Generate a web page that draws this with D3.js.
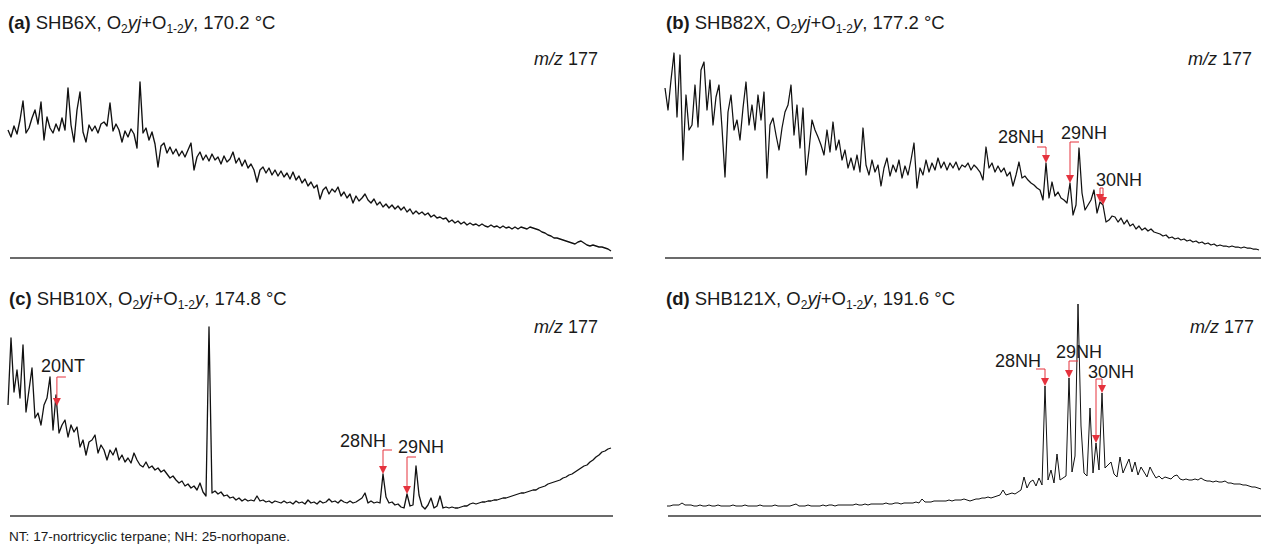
<!DOCTYPE html>
<html>
<head>
<meta charset="utf-8">
<script src="https://cdn.jsdelivr.net/npm/d3@7"></script>
<style>
  body { margin: 0; background: #fff; }
  svg text { font-family: "Liberation Sans", Arial, Helvetica, sans-serif; fill: #1a1a1a; }
</style>
</head>
<body>
<svg id="chart" width="1261" height="545"></svg>
<script>
// m/z 177 mass chromatograms: relative abundance per scan (every third scan)
const panelLetters = ["a", "b", "c", "d"];
const sampleIds = ["SHB6X", "SHB82X", "SHB10X", "SHB121X"];
const temperatures = ["170.2", "177.2", "174.8", "191.6"];
const ionLabel = "177";
const footnote = "NT: 17-nortricyclic terpane; NH: 25-norhopane.";

const abundanceA = [
  128,121,132,124,138,157,125,130,140,148,
  134,156,118,141,130,125,134,127,140,128,
  170,133,116,148,166,126,116,133,127,132,
  125,134,136,132,155,127,134,128,116,127,
  121,129,124,110,176,125,130,118,126,114,
  91,112,115,105,111,104,109,102,107,101,
  108,115,88,101,106,98,103,97,104,98,
  101,94,102,96,99,106,95,100,92,98,
  90,94,88,76,88,91,85,90,83,88,
  82,87,81,85,79,86,78,82,75,79,
  72,76,70,73,59,68,71,64,69,66,
  71,62,66,60,64,55,62,57,60,64,
  58,55,59,53,56,51,54,50,53,49,
  52,48,51,46,49,44,47,44,46,43,
  45,41,43,40,41,39,40,36,38,35,
  37,34,36,33,35,33,34,32,34,32,
  31,33,31,32,30,32,30,31,29,31,
  29,31,30,29,31,30,29,28,26,25,
  23,22,20,20,19,18,17,16,15,14,
  16,17,15,13,12,13,12,11,11,10,9,7
];

const abundanceB = [
  170,148,178,205,141,203,98,163,128,133,
  173,131,188,196,148,178,133,161,173,130,
  81,146,163,128,138,118,150,176,133,153,
  128,163,138,166,80,133,140,123,108,130,
  146,153,173,123,153,110,150,83,108,138,
  128,121,113,103,128,106,136,108,118,98,
  108,90,100,88,103,86,130,93,83,98,
  86,93,72,90,100,82,93,86,98,80,
  92,83,98,115,70,90,83,98,86,95,
  88,100,90,96,88,95,90,96,88,93,
  91,95,88,93,90,86,78,111,90,95,
  86,92,86,90,82,86,72,83,96,80,
  82,78,75,73,70,68,58,95,60,76,
  62,66,60,58,55,75,43,53,110,65,
  48,53,58,68,45,56,53,36,38,42,
  41,36,40,34,38,32,34,29,32,28,
  30,27,29,26,25,24,22,23,20,21,
  19,20,18,19,17,18,16,17,15,16,
  14,15,13,14,12,13,12,12,11,12,
  11,11,10,11,10,10,9,9,8
];

const abundanceC = [
  111,178,124,146,118,171,104,126,148,98,
  103,91,111,118,139,86,121,83,91,96,
  79,91,84,89,69,76,61,74,76,81,
  63,71,66,56,66,61,68,56,61,54,
  58,53,63,56,51,49,54,48,50,46,
  48,44,46,42,38,40,36,33,35,30,
  32,28,30,26,33,24,20,189,23,25,
  22,24,20,21,18,19,16,18,15,17,
  15,16,15,20,15,16,14,15,13,15,
  14,13,15,13,14,12,15,13,14,12,
  16,13,14,12,15,13,14,17,14,15,
  13,16,14,13,15,13,14,16,18,23,
  13,15,13,14,13,42,19,13,14,11,
  12,9,8,22,10,11,50,21,10,7,
  11,18,8,10,20,8,9,8,9,8,
  8,9,10,10,12,13,12,13,14,14,
  15,15,16,16,17,18,18,19,20,21,
  22,23,23,24,25,26,26,28,29,30,
  32,33,34,35,36,38,39,41,42,44,
  46,48,50,51,54,56,59,61,64,65,67,68
];

const abundanceD = [
  10,10,11,11,11,13,11,11,11,10,
  10,11,10,10,11,10,10,11,10,10,
  10,10,11,10,10,10,11,10,10,10,
  10,11,10,10,10,10,11,10,10,10,
  10,10,11,12,10,10,10,11,10,10,
  10,10,11,10,11,11,10,11,11,11,
  11,11,11,12,11,11,12,11,12,12,
  12,12,12,13,12,12,13,13,12,13,
  13,13,13,14,13,17,14,14,14,15,
  15,15,15,15,16,15,16,16,16,17,
  16,15,16,17,17,18,18,19,18,19,
  20,21,26,21,22,23,22,24,26,39,
  28,34,36,30,38,31,130,36,46,33,
  62,36,38,40,138,44,60,212,90,43,
  40,108,43,73,46,123,48,51,54,42,
  39,59,43,50,57,44,54,41,49,44,
  39,49,43,38,40,37,39,38,37,40,
  41,37,36,37,36,36,37,36,38,36,
  35,35,34,35,34,34,35,33,33,32,
  32,32,31,31,30,29,29,28,27
];

// Peak identifications: target scans, arrow tip abundance, bracket level, label anchor (scan / abundance)
const peaksA = [];
const peaksB = [
  { label: "28NH", scans: [127], tips: [95], level: 111, hook: -1, textScan: 111, textLevel: 115 },
  { label: "29NH", scans: [135], tips: [75], level: 116, hook: 1, textScan: 132, textLevel: 119 },
  { label: "30NH", scans: [145, 146], tips: [56, 53], level: 70, hook: 0, textScan: 143.7, textLevel: 72 }
];
const peaksC = [
  { label: "20NT", scans: [16.3], tips: [110], level: 139, hook: 1, textScan: 11, textLevel: 144 },
  { label: "28NH", scans: [125], tips: [42], level: 66, hook: 1, textScan: 110.7, textLevel: 69 },
  { label: "29NH", scans: [133], tips: [22], level: 59, hook: 1, textScan: 130, textLevel: 63 }
];
const peaksD = [
  { label: "28NH", scans: [126], tips: [130], level: 147, hook: -1, textScan: 109.3, textLevel: 149 },
  { label: "29NH", scans: [134], tips: [138], level: 155, hook: 1, textScan: 129.7, textLevel: 158 },
  { label: "30NH", scans: [143, 145], tips: [73, 123], level: 137, hook: 0, textScan: 140.3, textLevel: 138 }
];

// Panel geometry
const layout = [
  { series: abundanceA, peaks: peaksA, x0: 8,   x1: 611,  axisL: 10,  axisR: 613,  base: 258, titleX: 8,   titleY: 29,  mzX: 598,  mzY: 65,  lw: 1.35 },
  { series: abundanceB, peaks: peaksB, x0: 665, x1: 1259, axisL: 665, axisR: 1261, base: 258, titleX: 666, titleY: 29,  mzX: 1252, mzY: 65,  lw: 1.25 },
  { series: abundanceC, peaks: peaksC, x0: 8,   x1: 611,  axisL: 10,  axisR: 613,  base: 516, titleX: 9,   titleY: 305, mzX: 598,  mzY: 333, lw: 1.3 },
  { series: abundanceD, peaks: peaksD, x0: 667, x1: 1261, axisL: 668, axisR: 1261, base: 516, titleX: 666, titleY: 305, mzX: 1254, mzY: 333, lw: 1.0 }
];

const svg = d3.select("#chart");
const red = "#e5323d";
const hookLen = 9;

layout.forEach((p, k) => {
  const g = svg.append("g");
  const x = d3.scaleLinear().domain([0, p.series.length - 1]).range([p.x0, p.x1]);
  const y = d3.scaleLinear().domain([0, 180]).range([p.base, p.base - 180]);

  // baseline axis
  g.append("line")
    .attr("x1", p.axisL).attr("x2", p.axisR)
    .attr("y1", p.base).attr("y2", p.base)
    .attr("stroke", "#3a3a3a").attr("stroke-width", 1.6);

  // chromatogram trace
  const line = d3.line().x((d, i) => x(i)).y(d => y(d));
  g.append("path")
    .datum(p.series)
    .attr("d", line)
    .attr("fill", "none")
    .attr("stroke", "#111")
    .attr("stroke-width", p.lw)
    .attr("stroke-linejoin", "round");

  // panel title
  const t = g.append("text").attr("x", p.titleX).attr("y", p.titleY).attr("font-size", 18.5);
  t.append("tspan").attr("font-weight", "bold").text(`(${panelLetters[k]})`);
  t.append("tspan").text(` ${sampleIds[k]}, O`);
  t.append("tspan").attr("font-size", 12).attr("dy", 4).text("2");
  t.append("tspan").attr("dy", -4).attr("font-style", "italic").text("yj");
  t.append("tspan").text("+O");
  t.append("tspan").attr("font-size", 12).attr("dy", 4).text("1-2");
  t.append("tspan").attr("dy", -4).attr("font-style", "italic").text("y");
  t.append("tspan").text(`, ${temperatures[k]} °C`);

  // ion label
  const m = g.append("text").attr("x", p.mzX).attr("y", p.mzY)
    .attr("font-size", 18).attr("text-anchor", "end");
  m.append("tspan").attr("font-style", "italic").text("m/z");
  m.append("tspan").text(" " + ionLabel);

  // peak labels with bracket arrows
  p.peaks.forEach(a => {
    const xs = a.scans.map(s => x(s));
    const yl = y(a.level);
    const left = d3.min(xs) + (a.hook < 0 ? -hookLen : 0);
    const right = d3.max(xs) + (a.hook > 0 ? hookLen : 0);
    g.append("line")
      .attr("x1", left).attr("x2", right).attr("y1", yl).attr("y2", yl)
      .attr("stroke", red).attr("stroke-width", 1);
    a.scans.forEach((s, j) => {
      const xv = x(s), yt = y(a.tips[j]);
      g.append("line")
        .attr("x1", xv).attr("x2", xv).attr("y1", yl).attr("y2", yt - 6)
        .attr("stroke", red).attr("stroke-width", 1);
      g.append("path")
        .attr("d", `M${xv - 4},${yt - 8}L${xv + 4},${yt - 8}L${xv},${yt}Z`)
        .attr("fill", red);
    });
    g.append("text")
      .attr("x", x(a.textScan)).attr("y", y(a.textLevel))
      .attr("font-size", 18)
      .text(a.label);
  });
});

// footnote
svg.append("text").attr("x", 9).attr("y", 541).attr("font-size", 13.6).text(footnote);
</script>
</body>
</html>
